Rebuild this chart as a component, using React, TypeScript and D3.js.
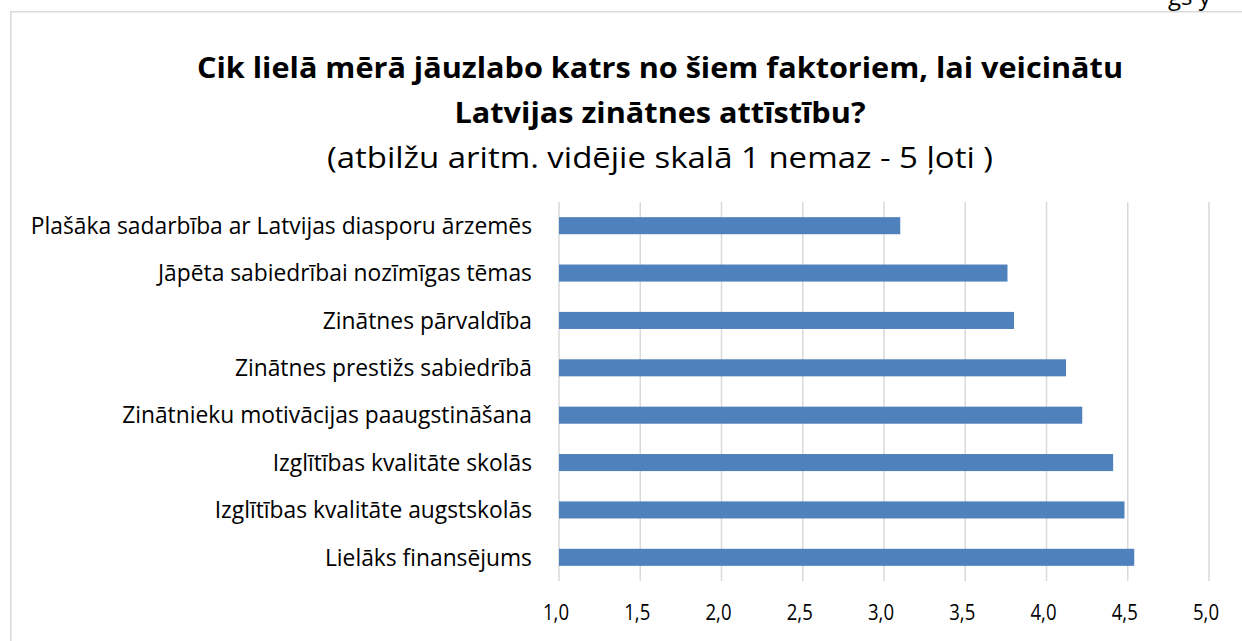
import React from "react";
import * as d3 from "d3";

const categories = [
  "Plašāka sadarbība ar Latvijas diasporu ārzemēs",
  "Jāpēta sabiedrībai nozīmīgas tēmas",
  "Zinātnes pārvaldība",
  "Zinātnes prestižs sabiedrībā",
  "Zinātnieku motivācijas paaugstināšana",
  "Izglītības kvalitāte skolās",
  "Izglītības kvalitāte augstskolās",
  "Lielāks finansējums",
];
const values = [3.1, 3.76, 3.8, 4.12, 4.22, 4.41, 4.48, 4.54];
const ticks = [1.0, 1.5, 2.0, 2.5, 3.0, 3.5, 4.0, 4.5, 5.0];
const titleLines = [
  "Cik lielā mērā jāuzlabo katrs no šiem faktoriem, lai veicinātu",
  "Latvijas zinātnes attīstību?",
];
const subtitle = "(atbilžu aritm. vidējie skalā 1 nemaz - 5 ļoti )";

const W = 1242;
const H = 641;
const FONT = "'Open Sans', 'Noto Sans', sans-serif";

export default function App() {
  const x = d3.scaleLinear().domain([1, 5]).range([559, 1209]);
  const y = d3
    .scaleBand<string>()
    .domain(categories)
    .range([202, 581])
    .paddingInner(0.64)
    .paddingOuter(0.32);
  const fmt = (v: number) => d3.format(".1f")(v).replace(".", ",");
  return (
    <svg
      width={W}
      height={H}
      style={{ position: "absolute", left: 0, top: 0, background: "#fff" }}
      fontFamily={FONT}
    >
      <rect x={0} y={0} width={W} height={H} fill="#fff" />
      <text x={1168} y={5} fontSize={24} fill="#000">gs y</text>
      <rect
        x={10.75}
        y={11.75}
        width={W + 20}
        height={H + 20}
        fill="none"
        stroke="#d9d9d9"
        strokeWidth={1.5}
      />
      {titleLines.map((t, i) => (
        <text
          key={t}
          x={660}
          y={78 + i * 45}
          textAnchor="middle"
          fontSize={29}
          fontWeight="bold"
          fill="#000"
          textLength={i === 0 ? 926 : 411}
          lengthAdjust="spacingAndGlyphs"
        >
          {t}
        </text>
      ))}
      <text
        x={660}
        y={168}
        textAnchor="middle"
        fontSize={30}
        fill="#000"
        textLength={666}
        lengthAdjust="spacingAndGlyphs"
      >
        {subtitle}
      </text>
      {ticks.map((t) => (
        <line
          key={"g" + t}
          x1={x(t)}
          x2={x(t)}
          y1={202}
          y2={581}
          stroke="#d9d9d9"
          strokeWidth={1.5}
        />
      ))}
      {categories.map((c, i) => (
        <rect
          key={"b" + c}
          x={x(1)}
          y={y(c)}
          width={x(values[i]) - x(1)}
          height={y.bandwidth()}
          fill="#4f81bd"
        />
      ))}
      {categories.map((c) => (
        <text
          key={"l" + c}
          x={532}
          y={(y(c) as number) + y.bandwidth() / 2}
          dy="0.36em"
          textAnchor="end"
          fontSize={22.8}
          fill="#000"
        >
          {c}
        </text>
      ))}
      {ticks.map((t) => (
        <text
          key={"t" + t}
          x={x(t) - 3}
          y={620}
          textAnchor="middle"
          fontSize={22}
          fill="#000"
          textLength={26}
          lengthAdjust="spacingAndGlyphs"
        >
          {fmt(t)}
        </text>
      ))}
    </svg>
  );
}
